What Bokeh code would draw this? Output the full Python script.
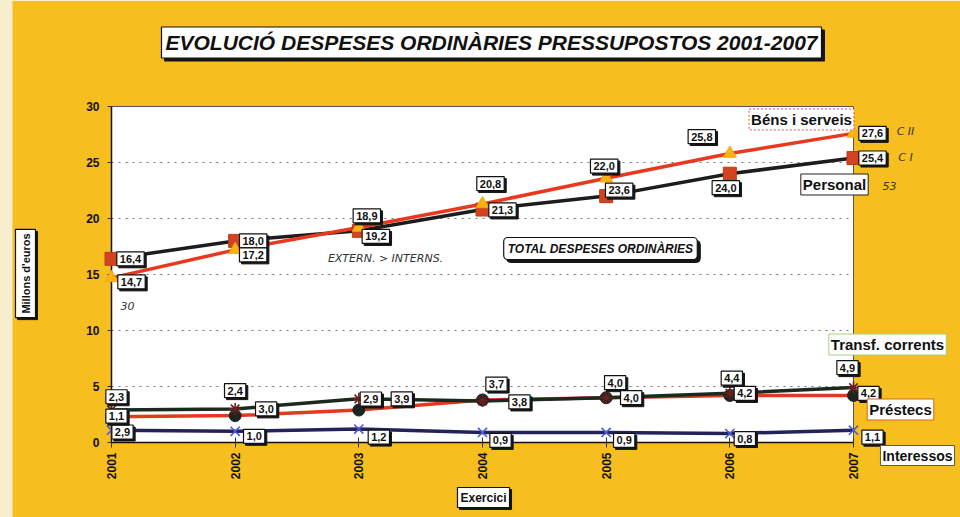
import math
from bokeh.plotting import figure
from bokeh.models import Range1d, FixedTicker, ColumnDataSource
from bokeh.core.properties import value
from bokeh.embed import file_html
from bokeh.resources import INLINE

# ---------------- data ----------------
years = [2001, 2002, 2003, 2004, 2005, 2006, 2007]
personal = [16.4, 18.0, 18.9, 20.8, 22.0, 24.0, 25.4]
bens = [14.7, 17.2, 19.2, 21.3, 23.6, 25.8, 27.6]
transf = [2.9, 3.0, 3.9, 3.7, 4.0, 4.4, 4.9]
prestecs = [2.3, 2.4, 2.9, 3.8, 4.0, 4.2, 4.2]
interessos = [1.1, 1.0, 1.2, 0.9, 0.9, 0.8, 1.1]
y_ticks = [0, 5, 10, 15, 20, 25, 30]

title_text = "EVOLUCIÓ DESPESES ORDINÀRIES PRESSUPOSTOS 2001-2007"
y_label = "Millons d'euros"
x_label = "Exercici"
total_label = "TOTAL DESPESES ORDINÀRIES"
series_names = ["Béns i serveis", "Personal", "Transf. corrents", "Préstecs", "Interessos"]
notes = ["EXTERN. > INTERNS.", "30", "C II", "C I", "53"]

# ---------------- style ----------------
YELLOW = "#F6BE1E"
FONT = "Liberation Sans"

# label pixel offsets (dx, dy) per point, dy positive = up
personal_off = [(19, 0), (18, 0), (8, 15), (8, 26), (-2, 30), (-4, -14), (19, 0)]
bens_off = [(20, -4), (18, -5), (17, -9), (20, -6), (13, -12), (-28, 17), (19, 0)]
transf_off = [(11, -22), (31, 0), (43, 0), (14, 17), (9, 15), (2, 15), (-6, 20)]
prestecs_off = [(5, 20), (0, 25), (12, 11), (37, -2), (25, 0), (15, 2), (15, 2)]
interessos_off = [(5, 14), (19, -5), (20, -8), (18, -8), (18, -8), (15, -5), (19, -7)]

W, H = 960, 517
FL, FR, FT, FB = 111, 853, 106, 442   # frame edges in pixels

p = figure(width=W, height=H, output_backend="svg", toolbar_location=None,
           x_range=Range1d(2001, 2007), y_range=Range1d(0, 30),
           min_border_left=FL, min_border_right=W - FR, min_border_top=FT,
           min_border_bottom=H - FB)
p.background_fill_color = "white"
p.border_fill_color = YELLOW
p.outline_line_color = "#555555"
p.outline_line_width = 1

# axes
p.xaxis.ticker = FixedTicker(ticks=years)
p.yaxis.ticker = FixedTicker(ticks=y_ticks)
p.xaxis.major_label_orientation = math.pi / 2
for ax in (p.xaxis, p.yaxis):
    ax.major_label_text_font = FONT
    ax.major_label_text_font_style = "bold"
    ax.major_label_text_font_size = "12px"
    ax.major_label_text_color = "#111111"
    ax.axis_line_color = "#111111"
    ax.axis_line_width = 1.5
    ax.major_tick_line_color = "#333333"
    ax.minor_tick_line_color = None
p.xaxis.major_tick_in = 5
p.xaxis.major_tick_out = 5
p.yaxis.major_tick_in = 0
p.yaxis.major_tick_out = 4
p.yaxis.major_label_standoff = 8
p.xgrid.visible = False
p.ygrid.ticker = FixedTicker(ticks=y_ticks[1:-1])
p.ygrid.grid_line_color = "#777777"
p.ygrid.grid_line_dash = "2 5"
p.ygrid.grid_line_width = 1.2

LV = "overlay"


def px2x(px):
    return 2001 + (px - FL) * 6 / (FR - FL)


def py2y(py):
    return (FB - py) * 30 / (FB - FT)


# pale scan strip at the left edge
p.quad(left=[px2x(0)], right=[px2x(12)], bottom=[py2y(H)], top=[py2y(0)],
       fill_color="#F7EDCF", line_color=None, level=LV)

# top series
p.line(years, personal, line_color="#1c1c1c", line_width=3.5, level=LV)
p.line(years, bens, line_color="#E8391E", line_width=3.5, level=LV)
p.scatter(years, personal, marker="square", size=13, fill_color="#D4431F",
          line_color="#C03A18", level=LV)
p.scatter(years, bens, marker="triangle", size=13, fill_color="#F8B412",
          line_color="#F0A810", level=LV)
# bottom series
p.line(years, interessos, line_color="#23235C", line_width=3.5, level=LV)
p.line(years, prestecs, line_color="#E23A1E", line_width=3.5, level=LV)
p.line(years, transf, line_color="#1a2a1e", line_width=3.5, level=LV)
p.scatter(years, interessos, marker="x", size=13, line_color="#4A5ADA",
          line_width=1.6, level=LV)
p.scatter(years, prestecs, marker="circle", size=12, fill_color="#1e2420",
          line_color="#1e2420", level=LV)
p.scatter(years, transf, marker="asterisk", size=12, line_color="#6a2020",
          line_width=1.6, level=LV)


def boxed(xs, ys, texts, xo, yo, size="11px", style="bold", border="#111111",
          pad=2, shadow=2, angle=0.0, radius=0, dash="solid", bw=1.2):
    src = ColumnDataSource(dict(x=xs, y=ys, text=texts, xo=xo,
                                yo=[-v for v in yo],
                                sxo=[v + shadow for v in xo],
                                syo=[-v + shadow for v in yo]))
    common = dict(x="x", y="y", text="text", text_font=value(FONT),
                  text_font_size=value(size), text_font_style=style,
                  text_align="center", text_baseline="middle", angle=angle,
                  padding=pad, border_radius=radius, level=LV, source=src)
    if shadow:
        p.text(x_offset="sxo", y_offset="syo", text_color="#151515",
               background_fill_color="#151515", border_line_color="#151515",
               **common)
    p.text(x_offset="xo", y_offset="yo", text_color="#111111",
           background_fill_color="white", border_line_color=border,
           border_line_width=bw, border_line_dash=dash, **common)


def fmt(v):
    return f"{v:.1f}".replace(".", ",")


# value labels
for series, offs in ((personal, personal_off), (bens, bens_off),
                     (transf, transf_off), (prestecs, prestecs_off),
                     (interessos, interessos_off)):
    boxed(years, series, [fmt(v) for v in series],
          [o[0] for o in offs], [o[1] for o in offs], pad=3)

# series name labels (pixel centres)
name_pos = [(801, 119), (834, 184), (887, 344), (900, 409), (917, 455)]
name_size = ["15px", "15px", "15px", "15px", "14px"]
name_border = ["#E05050", "#222222", "#A8D080", "#E06020", "#6a5a30"]
name_dash = ["2 2", "solid", "solid", "solid", "solid"]
for (px, py), t, sz, bc, ds in zip(name_pos, series_names, name_size,
                                   name_border, name_dash):
    boxed([px2x(px)], [py2y(py)], [t], [0], [0], size=sz, border=bc,
          dash=ds, shadow=0, bw=1)

# title & axis titles
boxed([px2x(491)], [py2y(42)], [title_text], [0], [0], size="21px",
      style="bold italic", pad=4, shadow=3)
boxed([px2x(25)], [py2y(273)], [y_label], [0], [0], size="11px", pad=4,
      shadow=2, angle=math.pi / 2)
boxed([px2x(483)], [py2y(497)], [x_label], [0], [0], size="12px", pad=3,
      shadow=2)
boxed([px2x(600)], [py2y(248)], [total_label], [0], [0], size="12px",
      style="bold italic", pad=4, shadow=3, radius=4)

# handwritten notes
note_pos = [(385, 258), (127, 305), (905, 131), (905, 157), (889, 185)]
p.text(x=[px2x(a) for a, _ in note_pos], y=[py2y(b) for _, b in note_pos],
       text=notes, text_font=value("DejaVu Sans"), text_font_style="italic",
       text_font_size=value("11px"), text_color="#333333", text_align="center",
       text_baseline="middle", level=LV)

open("out.html", "w").write(file_html(p, INLINE))
